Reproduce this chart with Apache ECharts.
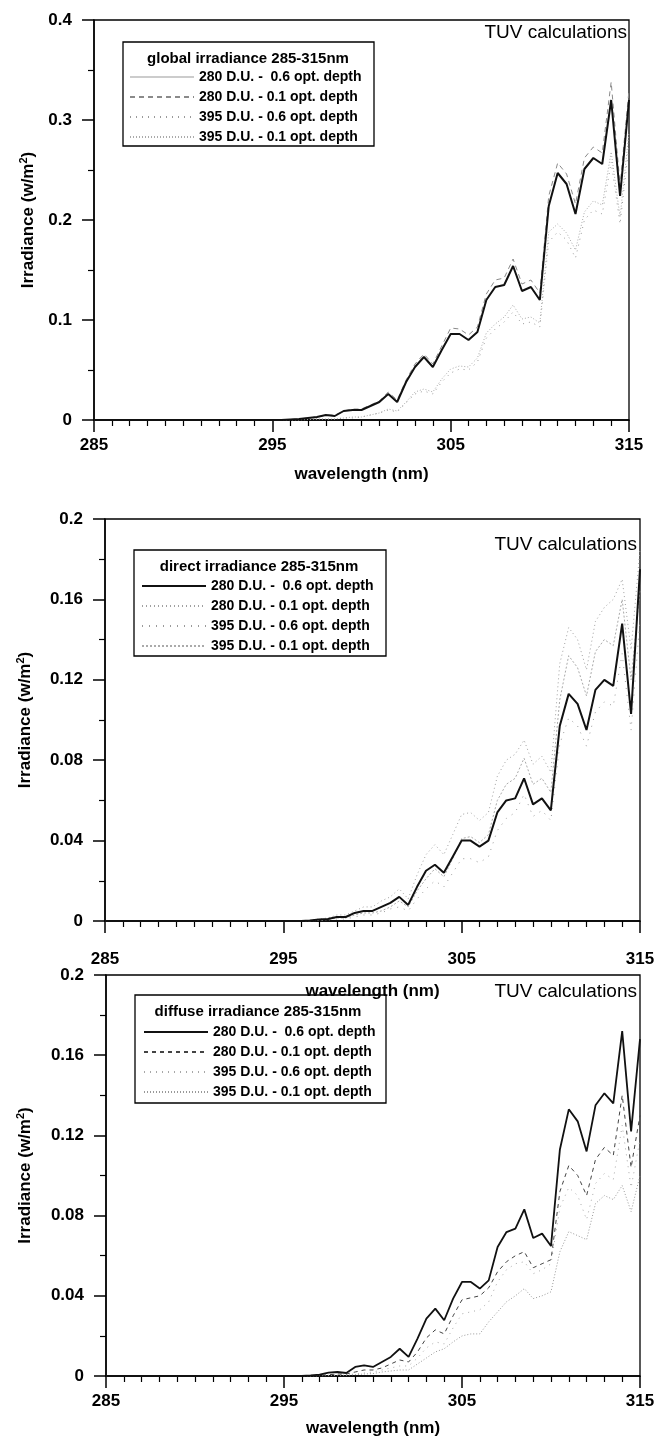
<!DOCTYPE html>
<html><head><meta charset="utf-8">
<script src="https://cdn.jsdelivr.net/npm/echarts@6/dist/echarts.min.js"></script>
<style>html,body{margin:0;padding:0;background:#fff}#c{width:658px;height:1441px}</style>
</head><body><div id="c"></div>
<script>
const wavelength = [285,285.5,286,286.5,287,287.5,288,288.5,289,289.5,290,290.5,291,291.5,292,292.5,293,293.5,294,294.5,295,295.5,
296,296.5,297,297.5,298,298.5,299,299.5,300,300.5,301,301.5,302,302.5,303,303.5,304,304.5,305,305.5,306,306.5,307,307.5,308,308.5,309,309.5,310,310.5,311,311.5,312,312.5,313,313.5,314,314.5,315];

const legendLabels = ['280 D.U. -  0.6 opt. depth','280 D.U. - 0.1 opt. depth','395 D.U. - 0.6 opt. depth','395 D.U. - 0.1 opt. depth'];
const panelTitles = ['global irradiance 285-315nm','direct irradiance 285-315nm','diffuse irradiance 285-315nm'];
const cornerText = 'TUV calculations';
const xTicks = [285,295,305,315];
const yMax = [0.4,0.2,0.2];
const yStep = [0.1,0.04,0.04];

// global irradiance
const global280_06 = [0,0,0,0,0,0,0,0,0,0,0,0,0,0,0,0,0,0,0,0,0,0,
0.0005,0.001,0.002,0.003,0.005,0.004,0.009,0.010,0.010,0.014,0.018,0.026,0.018,0.038,0.053,0.063,0.053,0.070,0.086,0.086,0.080,0.088,0.120,0.133,0.135,0.154,0.129,0.133,0.120,0.214,0.247,0.236,0.206,0.251,0.262,0.256,0.320,0.224,0.320];
const global280_01 = [0,0,0,0,0,0,0,0,0,0,0,0,0,0,0,0,0,0,0,0,0,0,
0.0005,0.001,0.002,0.003,0.005,0.005,0.009,0.011,0.011,0.015,0.019,0.028,0.020,0.040,0.056,0.066,0.056,0.074,0.092,0.091,0.085,0.093,0.126,0.140,0.142,0.161,0.136,0.140,0.127,0.224,0.257,0.246,0.216,0.262,0.273,0.267,0.338,0.234,0.330];
const global395_06 = [0,0,0,0,0,0,0,0,0,0,0,0,0,0,0,0,0,0,0,0,0,0,
0,0,0.0005,0.001,0.001,0.001,0.002,0.002,0.003,0.005,0.007,0.010,0.008,0.017,0.026,0.029,0.026,0.038,0.047,0.051,0.050,0.058,0.082,0.091,0.098,0.108,0.096,0.098,0.093,0.178,0.188,0.180,0.162,0.200,0.210,0.206,0.258,0.196,0.275];
const global395_01 = [0,0,0,0,0,0,0,0,0,0,0,0,0,0,0,0,0,0,0,0,0,0,
0,0,0.0005,0.001,0.001,0.001,0.002,0.003,0.003,0.005,0.007,0.011,0.009,0.018,0.028,0.031,0.028,0.041,0.051,0.054,0.053,0.062,0.087,0.096,0.103,0.115,0.101,0.103,0.097,0.188,0.196,0.187,0.170,0.208,0.219,0.215,0.268,0.203,0.288];

// direct irradiance
const direct280_06 = [0,0,0,0,0,0,0,0,0,0,0,0,0,0,0,0,0,0,0,0,0,0,
0,0.0003,0.0008,0.001,0.002,0.002,0.004,0.005,0.005,0.007,0.009,0.012,0.008,0.017,0.025,0.028,0.024,0.032,0.040,0.040,0.037,0.040,0.054,0.060,0.061,0.071,0.058,0.061,0.055,0.097,0.113,0.108,0.095,0.115,0.120,0.117,0.148,0.103,0.175];
const direct280_01 = [0,0,0,0,0,0,0,0,0,0,0,0,0,0,0,0,0,0,0,0,0,0,
0,0.0004,0.001,0.0015,0.003,0.003,0.005,0.007,0.007,0.010,0.012,0.016,0.011,0.023,0.033,0.038,0.033,0.043,0.053,0.054,0.050,0.054,0.072,0.080,0.083,0.090,0.078,0.082,0.074,0.128,0.146,0.140,0.125,0.149,0.156,0.160,0.170,0.135,0.185];
const direct395_06 = [0,0,0,0,0,0,0,0,0,0,0,0,0,0,0,0,0,0,0,0,0,0,
0,0,0.0003,0.0005,0.001,0.001,0.002,0.003,0.003,0.004,0.006,0.007,0.005,0.011,0.016,0.020,0.017,0.024,0.031,0.031,0.029,0.032,0.045,0.051,0.054,0.063,0.052,0.055,0.050,0.088,0.101,0.097,0.087,0.104,0.109,0.107,0.133,0.095,0.150];
const direct395_01 = [0,0,0,0,0,0,0,0,0,0,0,0,0,0,0,0,0,0,0,0,0,0,
0,0,0.0004,0.0007,0.0015,0.0015,0.003,0.004,0.004,0.005,0.007,0.010,0.007,0.015,0.021,0.026,0.022,0.031,0.041,0.042,0.039,0.043,0.060,0.068,0.071,0.081,0.068,0.071,0.064,0.110,0.132,0.126,0.112,0.134,0.140,0.137,0.160,0.120,0.165];

// diffuse irradiance
const diffuse280_06 = [0,0,0,0,0,0,0,0,0,0,0,0,0,0,0,0,0,0,0,0,0,0,
0,0.0003,0.0007,0.0017,0.002,0.0015,0.0045,0.0053,0.0045,0.007,0.0095,0.0136,0.0095,0.0186,0.0286,0.0336,0.0278,0.0386,0.0469,0.0469,0.0436,0.0477,0.0643,0.0718,0.0735,0.0831,0.0688,0.071,0.0648,0.113,0.133,0.127,0.112,0.135,0.141,0.136,0.172,0.122,0.168];
const diffuse280_01 = [0,0,0,0,0,0,0,0,0,0,0,0,0,0,0,0,0,0,0,0,0,0,
0,0.0001,0.0003,0.0006,0.001,0.001,0.002,0.003,0.003,0.004,0.006,0.008,0.007,0.012,0.019,0.023,0.021,0.030,0.038,0.039,0.040,0.044,0.052,0.057,0.060,0.062,0.054,0.056,0.058,0.092,0.105,0.100,0.090,0.108,0.114,0.110,0.140,0.104,0.130];
const diffuse395_06 = [0,0,0,0,0,0,0,0,0,0,0,0,0,0,0,0,0,0,0,0,0,0,
0,0,0.0002,0.0004,0.0006,0.0006,0.001,0.0015,0.002,0.003,0.004,0.005,0.005,0.009,0.014,0.017,0.016,0.024,0.031,0.032,0.033,0.037,0.047,0.053,0.056,0.057,0.051,0.053,0.056,0.084,0.094,0.090,0.078,0.096,0.101,0.098,0.125,0.094,0.118];
const diffuse395_01 = [0,0,0,0,0,0,0,0,0,0,0,0,0,0,0,0,0,0,0,0,0,0,
0,0,0.0001,0.0002,0.0004,0.0004,0.0007,0.001,0.0012,0.002,0.0025,0.003,0.003,0.006,0.009,0.012,0.0136,0.017,0.020,0.021,0.021,0.027,0.032,0.037,0.040,0.0436,0.0386,0.040,0.042,0.062,0.072,0.070,0.068,0.086,0.090,0.088,0.095,0.082,0.100];

const panelData = [
  [global280_06, global280_01, global395_06, global395_01],
  [direct280_06, direct280_01, direct395_06, direct395_01],
  [diffuse280_06, diffuse280_01, diffuse395_06, diffuse395_01]
];

// ---- layout & styles ----
const FONT = '"Liberation Sans", Arial, Helvetica, sans-serif';
const layout = [
  {left:94, top:20, width:535, height:400, labelMargin:17, nameGap:46, yNameGap:56,
   box:[123,42,251,104], titleXY:[248,59], legendXY:[129,70], tuv:[627,33]},
  {left:105, top:519, width:535, height:402, labelMargin:30, nameGap:62, yNameGap:70,
   box:[134,550,252,106], titleXY:[259,567], legendXY:[141,579], tuv:[637,545]},
  {left:106, top:975, width:534, height:401, labelMargin:17, nameGap:44, yNameGap:71,
   box:[135,995,251,108], titleXY:[258,1012], legendXY:[143,1025], tuv:[637,992]}
];
const lineStyles = [
  [{color:'#111',width:2,type:'solid'},{color:'#8a8a8a',width:1,type:[5,4]},{color:'#9a9a9a',width:1,type:[1,5]},{color:'#aaaaaa',width:1,type:[1,2]}],
  [{color:'#111',width:2,type:'solid'},{color:'#a0a0a0',width:1,type:[1,3]},{color:'#9a9a9a',width:1,type:[1,6]},{color:'#aaaaaa',width:1,type:[2,2]}],
  [{color:'#111',width:1.8,type:'solid'},{color:'#444',width:1,type:[4,4]},{color:'#a8a8a8',width:1,type:[1,5]},{color:'#999',width:1,type:[1,2]}]
];

const chart = echarts.init(document.getElementById('c'), null, {renderer:'canvas'});
const grids=[], xAxes=[], yAxes=[], series=[], legends=[], graphics=[];
const nameMap = {};
layout.forEach((L, p) => {
  grids.push({left:L.left, top:L.top, width:L.width, height:L.height, show:true, borderColor:'#000', borderWidth:1.3, backgroundColor:'transparent'});
  xAxes.push({gridIndex:p, type:'value', min:xTicks[0], max:xTicks[xTicks.length-1], interval:xTicks[1]-xTicks[0],
    axisLine:{show:true, onZero:false, lineStyle:{color:'#000', width:1.5}},
    axisTick:{show:true, length:12, lineStyle:{color:'#000', width:1.5}},
    minorTick:{show:true, splitNumber:10, length:6, lineStyle:{color:'#000', width:1.2}},
    splitLine:{show:false},
    axisLabel:{margin:L.labelMargin, color:'#000', fontSize:17, fontWeight:'bold', fontFamily:FONT, showMinLabel:true, showMaxLabel:true},
    name:'wavelength (nm)', nameLocation:'middle', nameGap:L.nameGap,
    nameTextStyle:{color:'#000', fontSize:17, fontWeight:'bold', fontFamily:FONT}
  });
  yAxes.push({gridIndex:p, type:'value', min:0, max:yMax[p], interval:yStep[p],
    axisLine:{show:true, onZero:false, lineStyle:{color:'#000', width:1.5}},
    axisTick:{show:true, length:12, lineStyle:{color:'#000', width:1.5}},
    minorTick:{show:true, splitNumber:2, length:6, lineStyle:{color:'#000', width:1.2}},
    splitLine:{show:false},
    axisLabel:{margin:22, color:'#000', fontSize:17, fontWeight:'bold', fontFamily:FONT,
      formatter: v => String(+v.toFixed(3))},
    name:'Irradiance (w/m{sup|2})', nameLocation:'middle', nameGap:L.yNameGap, nameRotate:90,
    nameTextStyle:{color:'#000', fontSize:17, fontWeight:'bold', fontFamily:FONT,
      rich:{sup:{fontSize:11, fontWeight:'bold', fontFamily:FONT, color:'#000', padding:[0,0,9,0]}}}
  });
  const names = [];
  panelData[p].forEach((arr, k) => {
    const nm = 'p' + p + 's' + k;
    nameMap[nm] = legendLabels[k];
    names.push(nm);
    series.push({name:nm, type:'line', xAxisIndex:p, yAxisIndex:p, symbol:'none', showSymbol:false,
      lineStyle:lineStyles[p][k], itemStyle:{color:lineStyles[p][k].color},
      z: 10 - k, animation:false,
      data: wavelength.map((w, i) => [w, arr[i]])});
  });
  const legendData = names.map((n, k) => {
    const d = {name:n};
    if (p === 0 && k === 0) d.lineStyle = {color:'#999', width:1};
    return d;
  });
  legends.push({data:legendData, orient:'vertical', left:L.legendXY[0], top:L.legendXY[1], padding:0,
    itemWidth:64, itemHeight:14, itemGap:6, selectedMode:false,
    itemStyle:{opacity:0, borderWidth:0},
    formatter: n => nameMap[n],
    textStyle:{color:'#000', fontSize:14, fontWeight:'bold', fontFamily:FONT}});
  graphics.push({type:'rect', silent:true, z:1, shape:{x:L.box[0], y:L.box[1], width:L.box[2], height:L.box[3]},
    style:{fill:'none', stroke:'#000', lineWidth:1.3}});
  graphics.push({type:'text', silent:true, z:5, x:L.titleXY[0], y:L.titleXY[1],
    style:{text:panelTitles[p], align:'center', verticalAlign:'middle', fill:'#000', font:'bold 15px ' + FONT}});
  graphics.push({type:'text', silent:true, z:5, x:L.tuv[0], y:L.tuv[1],
    style:{text:cornerText, align:'right', verticalAlign:'middle', fill:'#000', font:'19px ' + FONT}});
});

chart.setOption({
  animation:false,
  backgroundColor:'#fff',
  grid:grids, xAxis:xAxes, yAxis:yAxes, series:series, legend:legends, graphic:graphics
});
</script>
</body></html>
